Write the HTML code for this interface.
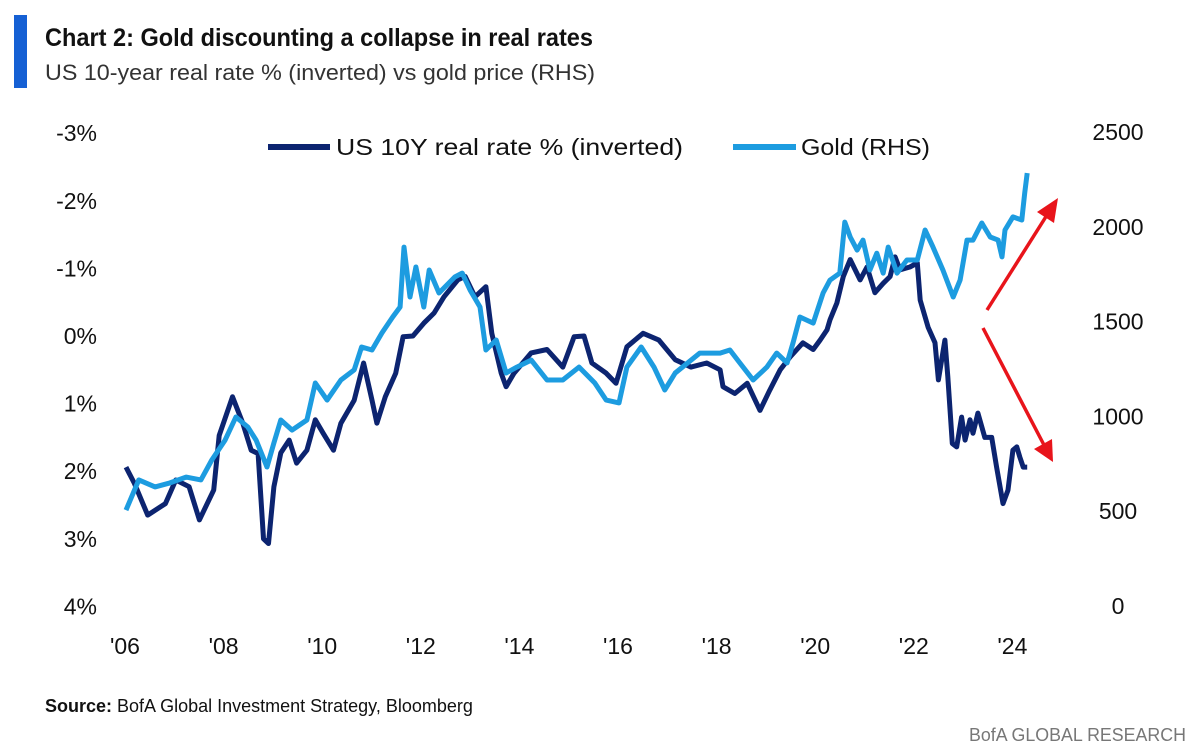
<!DOCTYPE html>
<html><head><meta charset="utf-8"><style>
html,body{margin:0;padding:0;background:#fff;}
svg{display:block;font-family:"Liberation Sans",sans-serif;}
</style></head><body>
<svg id="chart" width="1200" height="750" viewBox="0 0 1200 750" xmlns="http://www.w3.org/2000/svg">
<rect x="14" y="15" width="13" height="73" fill="#1560d4"/>
<text x="45" y="46" font-size="25" font-weight="bold" fill="#111" textLength="548" lengthAdjust="spacingAndGlyphs">Chart 2: Gold discounting a collapse in real rates</text>
<text x="45" y="80" font-size="22" fill="#333" textLength="550" lengthAdjust="spacingAndGlyphs">US 10-year real rate % (inverted) vs gold price (RHS)</text>
<g>
<line x1="268" y1="147" x2="330" y2="147" stroke="#0c2470" stroke-width="6"/>
<text x="336" y="155" font-size="23" fill="#111" textLength="347" lengthAdjust="spacingAndGlyphs">US 10Y real rate % (inverted)</text>
<line x1="733" y1="147" x2="796" y2="147" stroke="#1d9ce0" stroke-width="6"/>
<text x="801" y="155" font-size="23" fill="#111" textLength="129" lengthAdjust="spacingAndGlyphs">Gold (RHS)</text>
</g>
<g id="axes"></g>
<g id="series"></g>
<g stroke="#e8141b" fill="#e8141b">
<line x1="987" y1="310" x2="1047" y2="215" stroke-width="3.5"/>
<polygon points="1058,198 1054,223 1037,212" stroke="none"/>
<line x1="983" y1="328" x2="1044" y2="445" stroke-width="3.5"/>
<polygon points="1053,462 1034,449 1052,439" stroke="none"/>
</g>
<text x="45" y="712" font-size="18" fill="#111"><tspan font-weight="bold">Source:</tspan> BofA Global Investment Strategy, Bloomberg</text>
<text x="1186" y="741" font-size="18" fill="#777" text-anchor="end" textLength="217" lengthAdjust="spacingAndGlyphs">BofA GLOBAL RESEARCH</text>
</svg>
<script>
const leftTicks = [-3, -2, -1, 0, 1, 2, 3, 4];
const leftTickLabels = ["-3%", "-2%", "-1%", "0%", "1%", "2%", "3%", "4%"];
const rightTicks = [0, 500, 1000, 1500, 2000, 2500];
const xTickYears = [2006, 2008, 2010, 2012, 2014, 2016, 2018, 2020, 2022, 2024];
const xTickLabels = ["'06", "'08", "'10", "'12", "'14", "'16", "'18", "'20", "'22", "'24"];

const rateDates = [2006.02,2006.19,2006.46,2006.82,2007.03,2007.30,2007.51,2007.80,2007.91,2008.18,2008.39,2008.56,2008.70,2008.81,2008.91,2009.02,2009.16,2009.33,2009.48,2009.69,2009.86,2010.02,2010.23,2010.38,2010.65,2010.84,2011.01,2011.11,2011.28,2011.49,2011.64,2011.84,2012.06,2012.27,2012.47,2012.75,2012.90,2013.10,2013.32,2013.44,2013.63,2013.73,2013.89,2014.24,2014.56,2014.88,2015.11,2015.31,2015.47,2015.76,2015.96,2016.18,2016.51,2016.83,2017.16,2017.48,2017.80,2018.07,2018.13,2018.37,2018.62,2018.88,2019.08,2019.29,2019.49,2019.75,2019.96,2020.10,2020.24,2020.30,2020.44,2020.57,2020.71,2020.91,2021.05,2021.21,2021.38,2021.52,2021.62,2021.72,2021.92,2022.07,2022.13,2022.29,2022.43,2022.50,2022.63,2022.69,2022.78,2022.87,2022.97,2023.04,2023.14,2023.20,2023.30,2023.44,2023.58,2023.68,2023.81,2023.91,2024.01,2024.09,2024.15,2024.22,2024.30];
const rateValues = [1.94,2.18,2.65,2.48,2.13,2.23,2.72,2.28,1.47,0.9,1.29,1.69,1.74,3.0,3.07,2.23,1.73,1.54,1.88,1.69,1.24,1.44,1.69,1.29,0.95,0.4,0.95,1.29,0.9,0.55,0.01,0.0,-0.19,-0.34,-0.58,-0.83,-0.88,-0.58,-0.73,-0.04,0.55,0.75,0.55,0.25,0.2,0.46,0.01,0.0,0.4,0.55,0.7,0.16,-0.04,0.06,0.35,0.46,0.4,0.5,0.75,0.85,0.7,1.1,0.8,0.5,0.31,0.1,0.2,0.06,-0.09,-0.24,-0.49,-0.88,-1.13,-0.83,-1.02,-0.64,-0.78,-0.88,-1.17,-0.98,-1.02,-1.08,-0.53,-0.13,0.1,0.65,0.06,0.6,1.59,1.64,1.2,1.54,1.24,1.44,1.14,1.5,1.5,1.94,2.48,2.28,1.69,1.64,1.79,1.94,1.94];

const goldDates = [2006.02,2006.28,2006.61,2006.91,2007.24,2007.54,2007.76,2008.03,2008.25,2008.49,2008.66,2008.88,2009.02,2009.16,2009.39,2009.69,2009.86,2010.10,2010.38,2010.65,2010.80,2011.01,2011.21,2011.43,2011.58,2011.66,2011.78,2011.90,2012.06,2012.17,2012.37,2012.69,2012.84,2013.00,2013.20,2013.32,2013.53,2013.73,2013.95,2014.24,2014.56,2014.88,2015.21,2015.53,2015.76,2016.02,2016.18,2016.47,2016.73,2016.95,2017.16,2017.66,2018.07,2018.27,2018.47,2018.74,2019.02,2019.22,2019.43,2019.55,2019.69,2019.96,2020.16,2020.30,2020.50,2020.60,2020.71,2020.85,2020.97,2021.11,2021.25,2021.38,2021.48,2021.66,2021.86,2022.07,2022.23,2022.39,2022.59,2022.80,2022.94,2023.08,2023.20,2023.38,2023.55,2023.71,2023.79,2023.85,2024.01,2024.19,2024.25,2024.30];
const goldValues = [506,665,628,649,680,665,770,875,997,944,875,733,860,981,928,981,1176,1086,1192,1245,1366,1350,1440,1524,1577,1893,1630,1788,1577,1772,1651,1735,1756,1666,1577,1350,1403,1229,1260,1297,1192,1192,1260,1176,1086,1071,1260,1366,1260,1139,1229,1334,1334,1350,1282,1192,1260,1334,1282,1387,1524,1492,1651,1719,1756,2025,1946,1877,1930,1772,1861,1756,1893,1756,1825,1825,1983,1893,1772,1630,1719,1930,1930,2020,1946,1930,1841,1983,2052,2036,2178,2283];

const NS = "http://www.w3.org/2000/svg";
function xScale(yr){ return 125 + (yr - 2006) * 49.3; }
function yLeft(v){ return 336 + v * 67.6; }
function yRight(g){ return 606 - g * (474 / 2500); }

const axes = document.getElementById('axes');
leftTicks.forEach((t, i) => {
  const el = document.createElementNS(NS, 'text');
  
  
  el.setAttribute('x', 97); el.setAttribute('y', yLeft(t) + 8);
  el.setAttribute('text-anchor', 'end'); el.setAttribute('font-size', '23'); el.setAttribute('fill', '#111');
  el.textContent = leftTickLabels[i];
  axes.appendChild(el);
});
rightTicks.forEach(t => {
  const el = document.createElementNS(NS, 'text');
  
  
  el.setAttribute('x', 1118); el.setAttribute('y', yRight(t) + 8);
  el.setAttribute('text-anchor', 'middle'); el.setAttribute('font-size', '23'); el.setAttribute('fill', '#111');
  el.textContent = String(t);
  axes.appendChild(el);
});
xTickYears.forEach((yr, i) => {
  const el = document.createElementNS(NS, 'text');
  
  
  el.setAttribute('x', xScale(yr)); el.setAttribute('y', 654);
  el.setAttribute('text-anchor', 'middle'); el.setAttribute('font-size', '23'); el.setAttribute('fill', '#111');
  el.textContent = xTickLabels[i];
  axes.appendChild(el);
});

const series = document.getElementById('series');
function pathFrom(dates, vals, yf){
  return dates.map((d, i) => (i ? 'L' : 'M') + xScale(d).toFixed(1) + ',' + yf(vals[i]).toFixed(1)).join(' ');
}
const rate = document.createElementNS(NS, 'path');


rate.setAttribute('d', pathFrom(rateDates, rateValues, yLeft));
rate.setAttribute('fill', 'none'); rate.setAttribute('stroke', '#0c2470'); rate.setAttribute('stroke-width', '5'); rate.setAttribute('stroke-linejoin', 'round');
series.appendChild(rate);
const gold = document.createElementNS(NS, 'path');


gold.setAttribute('d', pathFrom(goldDates, goldValues, yRight));
gold.setAttribute('fill', 'none'); gold.setAttribute('stroke', '#1d9ce0'); gold.setAttribute('stroke-width', '5'); gold.setAttribute('stroke-linejoin', 'round');
series.appendChild(gold);
</script>
</body></html>
